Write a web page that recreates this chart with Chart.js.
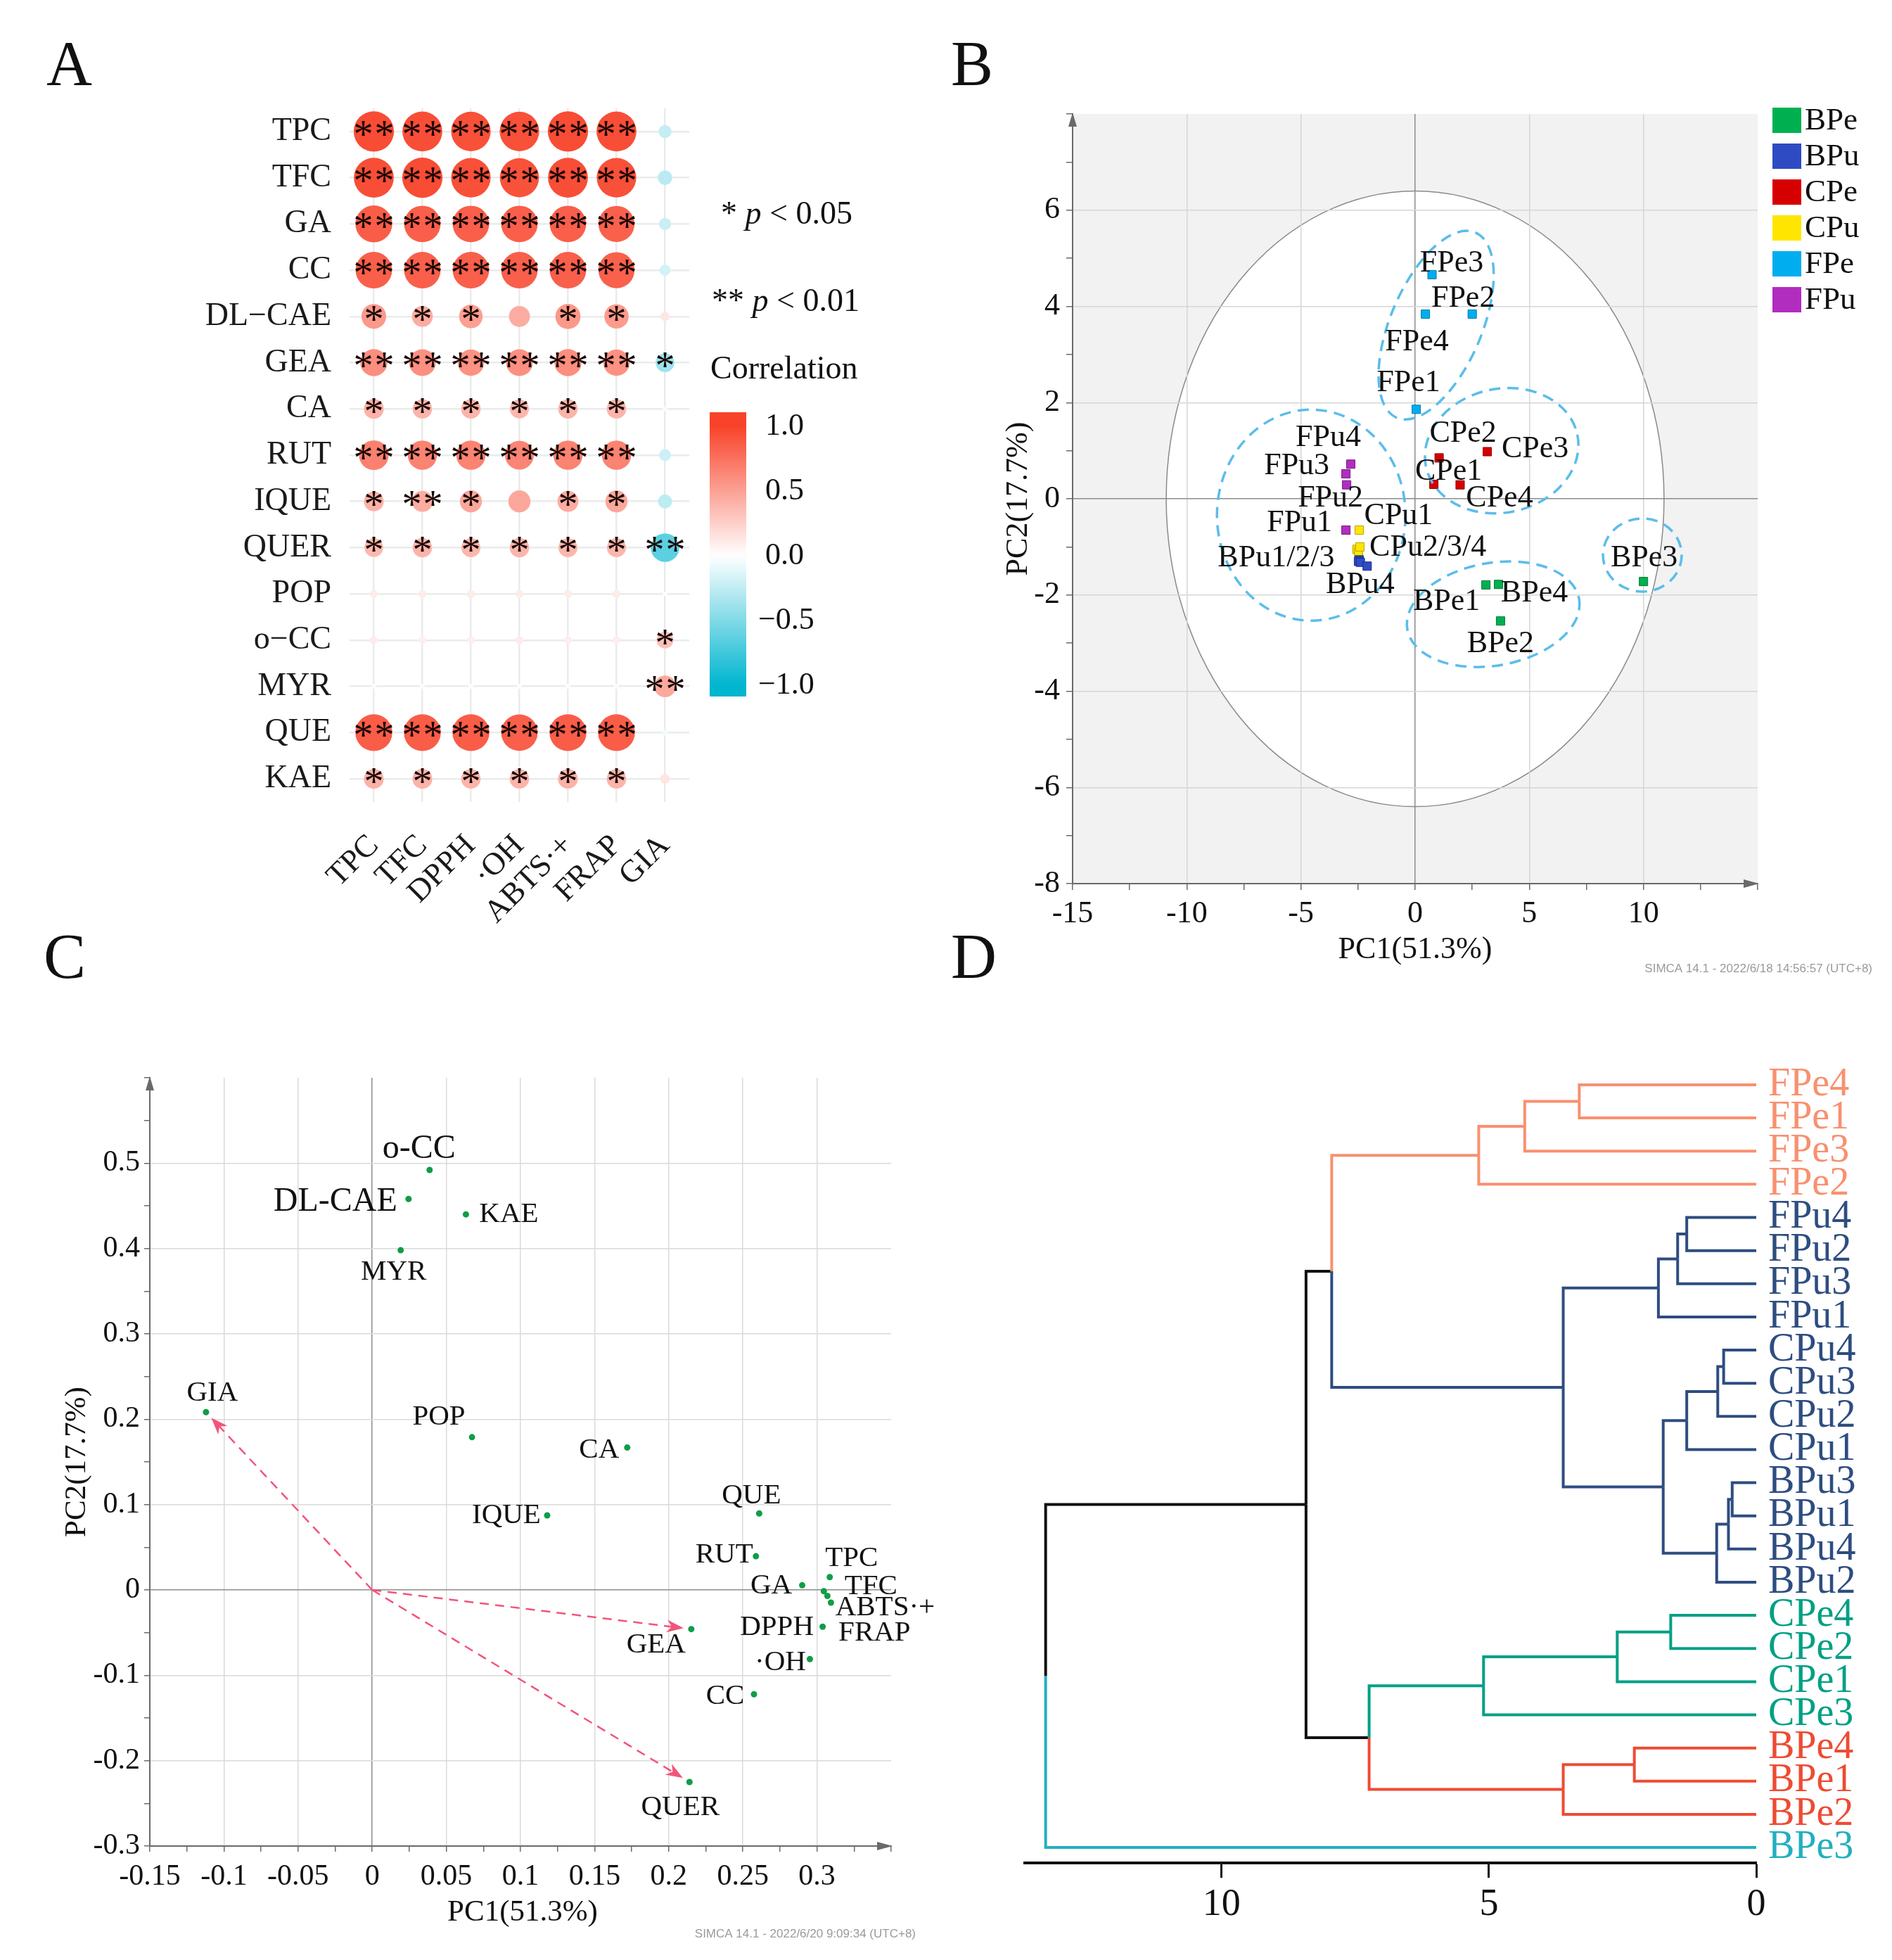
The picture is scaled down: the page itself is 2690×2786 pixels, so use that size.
<!DOCTYPE html>
<html><head><meta charset="utf-8"><title>Figure</title>
<script src="https://cdn.jsdelivr.net/npm/chart.js"></script>
<style>
html,body{margin:0;padding:0;background:#fff}
#page{position:relative;width:2690px;height:2786px;background:#fff;overflow:hidden}
#page canvas{position:absolute}
.tag{position:absolute;font-family:'Liberation Serif','Times New Roman',serif;font-size:90px;line-height:90px;color:#111}
</style></head>
<body><div id="page">
<canvas id="cA" width="1345" height="1393" style="left:0px;top:0px;width:1345px;height:1393px"></canvas>
<canvas id="cB" width="1345" height="1393" style="left:1345px;top:0px;width:1345px;height:1393px"></canvas>
<canvas id="cC" width="1345" height="1393" style="left:0px;top:1393px;width:1345px;height:1393px"></canvas>
<canvas id="cD" width="1345" height="1393" style="left:1345px;top:1393px;width:1345px;height:1393px"></canvas>
<div class="tag" style="left:66px;top:46px">A</div>
<div class="tag" style="left:1352px;top:46px">B</div>
<div class="tag" style="left:62px;top:1315px">C</div>
<div class="tag" style="left:1352px;top:1315px">D</div>
</div>
<script>
// ================= DATA =================
// ---- Panel A : correlation matrix ----
const rowsA = ['TPC','TFC','GA','CC','DL\u2212CAE','GEA','CA','RUT','IQUE','QUER','POP','o\u2212CC','MYR','QUE','KAE'];
const colsA = ['TPC','TFC','DPPH','\u00B7OH','ABTS\u00B7+','FRAP','GIA'];
const rTPC  = [0.95, 0.94, 0.86, 0.85, 0.54, 0.60, 0.41, 0.67, 0.41, 0.38, 0.10, 0.10, 0.02, 0.86, 0.41];
const rTFC  = [0.94, 0.95, 0.85, 0.85, 0.44, 0.59, 0.40, 0.66, 0.44, 0.40, 0.10, 0.09, 0.02, 0.86, 0.41];
const rDPPH = [0.93, 0.93, 0.85, 0.85, 0.51, 0.58, 0.40, 0.66, 0.47, 0.39, 0.10, 0.09, 0.02, 0.86, 0.40];
const rOH   = [0.93, 0.92, 0.85, 0.85, 0.44, 0.59, 0.39, 0.65, 0.47, 0.40, 0.10, 0.10, 0.02, 0.85, 0.40];
const rABTS = [0.95, 0.94, 0.85, 0.85, 0.55, 0.60, 0.40, 0.66, 0.44, 0.39, 0.10, 0.09, 0.02, 0.86, 0.41];
const rFRAP = [0.94, 0.93, 0.84, 0.84, 0.53, 0.58, 0.40, 0.66, 0.47, 0.39, 0.10, 0.09, 0.02, 0.86, 0.40];
const rGIA  = [-0.23, -0.27, -0.21, -0.18, 0.13, -0.38, 0.03, -0.20, -0.26, -0.64, 0.01, 0.33, 0.46, -0.05, 0.14];
// significance: 0 none, 1 = p<0.05, 2 = p<0.01
const sTPC  = [2,2,2,2,1,2,1,2,1,1,0,0,0,2,1];
const sTFC  = [2,2,2,2,1,2,1,2,2,1,0,0,0,2,1];
const sDPPH = [2,2,2,2,1,2,1,2,1,1,0,0,0,2,1];
const sOH   = [2,2,2,2,0,2,1,2,0,1,0,0,0,2,1];
const sABTS = [2,2,2,2,1,2,1,2,1,1,0,0,0,2,1];
const sFRAP = [2,2,2,2,1,2,1,2,1,1,0,0,0,2,1];
const sGIA  = [0,0,0,0,0,1,0,0,0,2,0,1,2,0,0];
const colorbarTicks = [1.0, 0.5, 0.0, -0.5, -1.0];

// ---- Panel B : PCA scores ----
const groupsB = ['BPe','BPu','CPe','CPu','FPe','FPu'];
const bpeX = [3.10, 3.74, 10.0, 3.65];   const bpeY = [-1.79, -2.54, -1.72, -1.78];
const bpuX = [-2.45, -2.48, -2.40, -2.10]; const bpuY = [-1.27, -1.30, -1.32, -1.40];
const cpeX = [0.82, 1.05, 3.16, 1.97];   const cpeY = [0.30, 0.85, 0.98, 0.29];
const cpuX = [-2.45, -2.55, -2.48, -2.42]; const cpuY = [-0.65, -1.05, -1.10, -1.00];
const fpeX = [0.05, 2.50, 0.74, 0.45];   const fpeY = [1.86, 3.84, 4.66, 3.84];
const fpuX = [-3.03, -3.00, -3.03, -2.82]; const fpuY = [-0.65, 0.29, 0.52, 0.72];
const t2X = 10.9, t2Y = 6.4;            // Hotelling T2 ellipse semi-axes
const xTicksB = [-15, -10, -5, 0, 5, 10];
const yTicksB = [-8, -6, -4, -2, 0, 2, 4, 6];

// ---- Panel C : loadings ----
const loadNames = ['TPC','TFC','DPPH','\u00B7OH','ABTS\u00B7+','FRAP','GA','CC','DL-CAE','GEA','CA','RUT','IQUE','QUER','POP','o-CC','MYR','QUE','KAE','GIA'];
const loadX = [0.3086, 0.3046, 0.3038, 0.2952, 0.3094, 0.3070, 0.2900, 0.2575, 0.0245, 0.2152, 0.1720, 0.2588, 0.1180, 0.2140, 0.0673, 0.0387, 0.0192, 0.2610, 0.0632, -0.1121];
const loadY = [0.0150, -0.0014, -0.0431, -0.0810, -0.0148, -0.0070, 0.0055, -0.1222, 0.4580, -0.0459, 0.1668, 0.0395, 0.0874, -0.2250, 0.1790, 0.4920, 0.3980, 0.0896, 0.4400, 0.2083];
const arrowVars = ['GIA','GEA','QUER'];

// ---- Panel D : dendrogram ----
const leavesD = ['FPe4','FPe1','FPe3','FPe2','FPu4','FPu2','FPu3','FPu1','CPu4','CPu3','CPu2','CPu1','BPu3','BPu1','BPu4','BPu2','CPe4','CPe2','CPe1','CPe3','BPe4','BPe1','BPe2','BPe3'];
const clusterOfLeaf = [0,0,0,0,1,1,1,1,1,1,1,1,1,1,1,1,2,2,2,2,3,3,3,4];
const mergeLeft   = [-1, 1, 2, -5, 4, 5, -9, 7, 8, -13, 10, 11, 9, 6, 3, -17, 16, 17, -21, 19, 18, 15, 22];
const mergeRight  = [-2, -3, -4, -6, -7, -8, -10, -11, -12, -14, -15, -16, 12, 13, 14, -18, -19, -20, -22, -23, 20, 21, -24];
const mergeHeight = [3.31, 4.33, 5.19, 1.30, 1.47, 1.83, 0.61, 0.72, 1.30, 0.45, 0.52, 0.74, 1.74, 3.61, 7.94, 1.60, 2.60, 5.10, 2.28, 3.61, 7.24, 8.42, 13.29];
const xTicksD = [0, 5, 10];

// ================= STYLE / LAYOUT =================
const SERIF = "'Liberation Serif', 'Times New Roman', serif";
const SANS = "'Liberation Sans', Arial, sans-serif";
Chart.defaults.font.family = SERIF;
Chart.defaults.color = '#111';

const groupColorsB = ['#00B050','#2E4BC4','#D60000','#FFE500','#00AEEF','#B12DC0'];
const groupBordersB = ['#007A38','#1C2F88','#8E0000','#B8A300','#0079A8','#741C80'];
const clusterColors = ['#F9906F','#2E4D80','#00A085','#EE4B33','#22AFC0'];
// label offsets (px) for panel B: [text, group, point, dx, dy]
const labelLayoutB = [
  ['FPe3',4,2,28,-16], ['FPe2',4,1,-13,-22], ['FPe4',4,3,-12,40], ['FPe1',4,0,-11,-37],
  ['CPe2',2,1,34,-34], ['CPe3',2,2,68,-4], ['CPe1',2,0,21,-18], ['CPe4',2,3,56,19],
  ['FPu4',5,3,-32,-37], ['FPu3',5,2,-70,-11], ['FPu2',5,1,-23,19], ['FPu1',5,0,-66,-10],
  ['CPu1',3,0,56,-20], ['CPu2/3/4',3,1,101,-2], ['BPu1/2/3',1,1,-117,-4], ['BPu4',1,3,-10,27],
  ['BPe1',0,0,-56,24], ['BPe4',0,3,51,13], ['BPe2',0,1,0,33], ['BPe3',0,2,1,-33]
];
// dashed group ellipses (center in data units, radii in px, rotation deg)
const ellLayoutB = [
  {cx:0.92, cy:3.61, rx:143, ry:65, rot:-67},
  {cx:3.79, cy:1.00, rx:110, ry:88, rot:-12},
  {cx:-4.55, cy:-0.34, rx:134, ry:150, rot:0},
  {cx:3.42, cy:-2.40, rx:124, ry:73, rot:-10},
  {cx:9.95, cy:-1.17, rx:56, ry:52, rot:0}
];
// label offsets (px) and font sizes for panel C, same order as loadNames
const labelOffC = [[31,-27],[67,-6],[-65,1],[-42,5],[77,7],[67,53],[-44,1],[-41,3],[-104,4],[-50,23],[-40,4],[-45,-2],[-58,0],[-13,36],[-47,-29],[-15,-30],[-10,31],[-11,-25],[61,0],[9,-27]];
const labelSizeC = [41,41,41,41,41,41,41,41,48,41,41,41,41,41,41,48,41,41,41,41];

// ================= HELPERS =================
function fixH(h){ return s => { s.height = h; s.paddingLeft = 0; s.paddingRight = 0; }; }
function fixW(w){ return s => { s.width = w; s.paddingTop = 0; s.paddingBottom = 0; }; }
function stepTicks(min, max, step){ const out=[]; const n=Math.round((max-min)/step); for(let k=0;k<=n;k++) out.push(+(min+k*step).toFixed(6)); return out; }
function isOn(v, list){ return list.some(t => Math.abs(t - v) < 1e-6); }
function isMultiple(v, step){ return Math.abs(v/step - Math.round(v/step)) < 1e-6; }
const corrHigh=[248,67,42], corrLow=[0,181,208];
function corrColor(v){ const t=Math.min(1,Math.abs(v)); const c=v>=0?corrHigh:corrLow; const m=k=>Math.round(255+(c[k]-255)*t); return `rgb(${m(0)},${m(1)},${m(2)})`; }
function richText(ctx, parts, x, y, size){ let cx=x; parts.forEach(([t,it])=>{ ctx.font=`${it?'italic ':''}${size}px ${SERIF}`; ctx.fillText(t,cx,y); cx+=ctx.measureText(t).width; }); }
function axisArrows(ctx, a, color){
  ctx.save(); ctx.fillStyle=color;
  ctx.beginPath(); ctx.moveTo(a.left, a.top-2); ctx.lineTo(a.left-6, a.top+18); ctx.lineTo(a.left+6, a.top+18); ctx.closePath(); ctx.fill();
  ctx.beginPath(); ctx.moveTo(a.right+2, a.bottom); ctx.lineTo(a.right-20, a.bottom-6); ctx.lineTo(a.right-20, a.bottom+6); ctx.closePath(); ctx.fill();
  ctx.restore();
}
function baseOpts(pad){
  return { responsive:false, maintainAspectRatio:false, animation:false, devicePixelRatio:1,
    layout:{padding:pad}, plugins:{legend:{display:false}, tooltip:{enabled:false}}, events:[] };
}

// ================= PANEL A =================
(function(){
  const corrCols = [rTPC, rTFC, rDPPH, rOH, rABTS, rFRAP, rGIA];
  const sigCols = [sTPC, sTFC, sDPPH, sOH, sABTS, sFRAP, sGIA];
  const cells = [], colors = [];
  corrCols.forEach((col,j)=>col.forEach((v,i)=>{ cells.push({x:j, y:i, r:3+27*Math.abs(v)}); colors.push(corrColor(v)); }));
  const stars = { id:'stars', afterDatasetsDraw(chart){
    const ctx=chart.ctx, xs=chart.scales.x, ys=chart.scales.y;
    ctx.save(); ctx.fillStyle='#160400'; ctx.font=`56px ${SERIF}`; ctx.textAlign='center'; ctx.textBaseline='alphabetic';
    sigCols.forEach((col,j)=>col.forEach((s,i)=>{
      if(!s) return; const px=xs.getPixelForValue(j), py=ys.getPixelForValue(i)+23;
      if(s===1) ctx.fillText('*',px,py); else { ctx.fillText('*',px-15,py); ctx.fillText('*',px+15,py); }
    }));
    ctx.restore(); } };
  const legend = { id:'legA', afterDraw(chart){
    const ctx=chart.ctx; ctx.save(); ctx.fillStyle='#111'; ctx.textBaseline='middle'; ctx.textAlign='left';
    richText(ctx, [['* ',false],['p',true],[' < 0.05',false]], 1025, 306, 46);
    richText(ctx, [['** ',false],['p',true],[' < 0.01',false]], 1012, 430, 46);
    ctx.font=`46px ${SERIF}`; ctx.fillText('Correlation', 1010, 526);
    const top=586, bot=990, x0=1009, w=52, mid=790, unit=184;
    const g=ctx.createLinearGradient(0,top,0,bot);
    for(let k=0;k<=40;k++){ const y=top+(bot-top)*k/40; g.addColorStop(k/40, corrColor((mid-y)/unit)); }
    ctx.fillStyle=g; ctx.fillRect(x0,top,w,bot-top);
    ctx.fillStyle='#111'; ctx.font=`44px ${SERIF}`;
    colorbarTicks.forEach(v=>{ const t=(v<0?'\u2212':'')+Math.abs(v).toFixed(1); ctx.fillText(t, v<0?1078:1088, mid-v*unit); });
    ctx.restore(); } };
  const o = baseOpts({left:0, top:154, right:365, bottom:0});
  o.scales = {
    x:{ type:'linear', min:-0.5, max:6.5,
      afterBuildTicks:s=>{ s.ticks=colsA.map((_,i)=>({value:i})); }, afterFit:fixH(253),
      ticks:{ autoSkip:false, minRotation:45, maxRotation:45, padding:36, font:{size:45}, color:'#1a1a1a', callback:v=>colsA[v] },
      grid:{ color:'#EAEBEC', lineWidth:2.5, drawTicks:false }, border:{display:false} },
    y:{ type:'linear', min:-0.5, max:14.5, reverse:true,
      afterBuildTicks:s=>{ s.ticks=rowsA.map((_,i)=>({value:i})); }, afterFit:fixW(497),
      ticks:{ autoSkip:false, padding:26, font:{size:46}, color:'#1a1a1a', callback:v=>rowsA[v] },
      grid:{ color:'#EAEBEC', lineWidth:2.5, drawTicks:false }, border:{display:false} }
  };
  new Chart(document.getElementById('cA'), { type:'bubble',
    data:{ datasets:[{ data:cells, backgroundColor:colors, borderWidth:0 }] }, options:o, plugins:[stars, legend] });
})();

// ================= PANEL B =================
(function(){
  const xs=[bpeX,bpuX,cpeX,cpuX,fpeX,fpuX], ys=[bpeY,bpuY,cpeY,cpuY,fpeY,fpuY];
  const datasets = groupsB.map((g,i)=>({ label:g, data:xs[i].map((x,k)=>({x, y:ys[i][k]})),
    pointStyle:'rect', pointRadius:8.5, backgroundColor:groupColorsB[i], borderColor:groupBordersB[i], borderWidth:1, showLine:false }));
  const bg = { id:'bgB', beforeDraw(chart){
    const {ctx, chartArea:a, scales:{x,y}} = chart; ctx.save();
    ctx.fillStyle='#F2F2F2'; ctx.fillRect(a.left,a.top,a.right-a.left,a.bottom-a.top);
    const cx=x.getPixelForValue(0), cy=y.getPixelForValue(0);
    const rx=x.getPixelForValue(t2X)-cx, ry=cy-y.getPixelForValue(t2Y);
    ctx.beginPath(); ctx.ellipse(cx,cy,rx,ry,0,0,2*Math.PI); ctx.fillStyle='#fff'; ctx.fill();
    ctx.lineWidth=1.5; ctx.strokeStyle='#8a8a8a'; ctx.stroke(); ctx.restore(); } };
  const over = { id:'overB', afterDatasetsDraw(chart){
    const {ctx, scales:{x,y}} = chart; ctx.save();
    ctx.strokeStyle='#5BBDEA'; ctx.lineWidth=3.5; ctx.setLineDash([16,10]);
    ellLayoutB.forEach(e=>{ ctx.beginPath(); ctx.ellipse(x.getPixelForValue(e.cx), y.getPixelForValue(e.cy), e.rx, e.ry, e.rot*Math.PI/180, 0, 2*Math.PI); ctx.stroke(); });
    ctx.setLineDash([]);
    ctx.fillStyle='#111'; ctx.font=`44px ${SERIF}`; ctx.textAlign='center'; ctx.textBaseline='middle';
    labelLayoutB.forEach(([t,g,k,dx,dy])=>{ ctx.fillText(t, x.getPixelForValue(xs[g][k])+dx, y.getPixelForValue(ys[g][k])+dy); });
    ctx.restore(); },
    afterDraw(chart){
      const {ctx, chartArea:a} = chart; axisArrows(ctx, a, '#6a6a6a'); ctx.save();
      groupsB.forEach((g,i)=>{ const yc=171+i*51; ctx.fillStyle=groupColorsB[i]; ctx.fillRect(1175,yc-18,41,36);
        ctx.fillStyle='#111'; ctx.font=`45px ${SERIF}`; ctx.textAlign='left'; ctx.textBaseline='middle'; ctx.fillText(g,1221,yc+1); });
      ctx.fillStyle='#111'; ctx.font=`44px ${SERIF}`; ctx.textAlign='center'; ctx.textBaseline='middle';
      ctx.fillText('PC1(51.3%)', (a.left+a.right)/2, 1350);
      ctx.translate(103,(a.top+a.bottom)/2); ctx.rotate(-Math.PI/2); ctx.fillText('PC2(17.7%)',0,0); ctx.setTransform(1,0,0,1,0,0);
      ctx.fillStyle='#9a9a9a'; ctx.font=`17px ${SANS}`; ctx.textAlign='right'; ctx.fillText('SIMCA 14.1 - 2022/6/18 14:56:57 (UTC+8)', 1317, 1377);
      ctx.restore(); } };
  const gridCol = (list)=> ctx => { const v=ctx.tick?ctx.tick.value:NaN; if(Math.abs(v)<1e-9) return '#8c8c8c'; return (isOn(v,list) && ctx.index>0) ? '#D6D6D6' : 'rgba(0,0,0,0)'; };
  const o = baseOpts({left:0, top:162, right:191, bottom:0});
  o.scales = {
    x:{ type:'linear', min:-15, max:15, afterBuildTicks:s=>{ s.ticks=stepTicks(-15,15,2.5).map(v=>({value:v})); }, afterFit:fixH(137),
      ticks:{ autoSkip:false, maxRotation:0, minRotation:0, padding:8, font:{size:44}, color:'#111', callback:v=>isOn(v,xTicksB)?String(v):'' },
      grid:{ color:gridCol(xTicksB), lineWidth:1.5, drawTicks:true, tickLength:9, tickColor:'#6a6a6a', tickWidth:1.5 },
      border:{ display:true, color:'#6a6a6a', width:2 } },
    y:{ type:'linear', min:-8, max:8, afterBuildTicks:s=>{ s.ticks=stepTicks(-8,8,1).map(v=>({value:v})); }, afterFit:fixW(180),
      ticks:{ autoSkip:false, padding:9, font:{size:44}, color:'#111', callback:v=>isOn(v,yTicksB)?String(v):'' },
      grid:{ color:gridCol(yTicksB), lineWidth:1.5, drawTicks:true, tickLength:9, tickColor:'#6a6a6a', tickWidth:1.5 },
      border:{ display:true, color:'#6a6a6a', width:2 } }
  };
  new Chart(document.getElementById('cB'), { type:'scatter', data:{datasets}, options:o, plugins:[bg, over] });
})();

// ================= PANEL C =================
(function(){
  const pts = loadX.map((x,i)=>({x, y:loadY[i]}));
  const over = { id:'overC', afterDatasetsDraw(chart){
    const {ctx, scales:{x,y}} = chart; ctx.save();
    const ox=x.getPixelForValue(0), oy=y.getPixelForValue(0);
    arrowVars.forEach(n=>{ const i=loadNames.indexOf(n); const tx=x.getPixelForValue(loadX[i]), ty=y.getPixelForValue(loadY[i]);
      const dx=tx-ox, dy=ty-oy, L=Math.hypot(dx,dy), ux=dx/L, uy=dy/L; const ex=tx-ux*11, ey=ty-uy*11;
      ctx.strokeStyle='#F2557A'; ctx.lineWidth=2.5; ctx.setLineDash([13,9]);
      ctx.beginPath(); ctx.moveTo(ox,oy); ctx.lineTo(ex-ux*14, ey-uy*14); ctx.stroke(); ctx.setLineDash([]);
      ctx.fillStyle='#F2557A'; ctx.beginPath(); ctx.moveTo(ex,ey);
      ctx.lineTo(ex-ux*24-uy*9, ey-uy*24+ux*9); ctx.lineTo(ex-ux*17, ey-uy*17); ctx.lineTo(ex-ux*24+uy*9, ey-uy*24-ux*9); ctx.closePath(); ctx.fill(); });
    ctx.fillStyle='#111'; ctx.textAlign='center'; ctx.textBaseline='middle';
    loadNames.forEach((n,i)=>{ ctx.font=`${labelSizeC[i]}px ${SERIF}`; ctx.fillText(n, x.getPixelForValue(loadX[i])+labelOffC[i][0], y.getPixelForValue(loadY[i])+labelOffC[i][1]); });
    ctx.restore(); },
    afterDraw(chart){
      const {ctx, chartArea:a} = chart; axisArrows(ctx, a, '#6a6a6a'); ctx.save();
      ctx.fillStyle='#111'; ctx.font=`43px ${SERIF}`; ctx.textAlign='center'; ctx.textBaseline='middle';
      ctx.fillText('PC1(51.3%)', 743, 1326);
      ctx.translate(110,(a.top+a.bottom)/2); ctx.rotate(-Math.PI/2); ctx.fillText('PC2(17.7%)',0,0); ctx.setTransform(1,0,0,1,0,0);
      ctx.fillStyle='#9a9a9a'; ctx.font=`17px ${SANS}`; ctx.textAlign='right'; ctx.fillText('SIMCA 14.1 - 2022/6/20 9:09:34 (UTC+8)', 1302, 1356);
      ctx.restore(); } };
  const gridCol = (step, lo, hi)=> ctx => { const v=ctx.tick?ctx.tick.value:NaN; if(Math.abs(v)<1e-9) return '#8c8c8c';
    return (isMultiple(v,step) && v>lo+1e-9 && v<hi-1e-9) ? '#DADADA' : 'rgba(0,0,0,0)'; };
  const fmt = v => String(parseFloat(v.toFixed(2)));
  const o = baseOpts({left:0, top:139, right:78, bottom:0});
  o.scales = {
    x:{ type:'linear', min:-0.15, max:0.35, afterBuildTicks:s=>{ s.ticks=stepTicks(-0.15,0.35,0.025).map(v=>({value:v})); }, afterFit:fixH(162),
      ticks:{ autoSkip:false, maxRotation:0, minRotation:0, padding:11, font:{size:42}, color:'#111', callback:v=>(isMultiple(v,0.05)&&v<0.349)?fmt(v):'' },
      grid:{ color:gridCol(0.05,-0.15,0.35), lineWidth:1.5, drawTicks:true, tickLength:8, tickColor:'#6a6a6a', tickWidth:1.5 },
      border:{ display:true, color:'#6a6a6a', width:2 } },
    y:{ type:'linear', min:-0.3, max:0.6, afterBuildTicks:s=>{ s.ticks=stepTicks(-0.3,0.6,0.05).map(v=>({value:v})); }, afterFit:fixW(213),
      ticks:{ autoSkip:false, padding:6, font:{size:42}, color:'#111', callback:v=>(isMultiple(v,0.1)&&v<0.59)?fmt(v):'' },
      grid:{ color:gridCol(0.1,-0.3,0.6), lineWidth:1.5, drawTicks:true, tickLength:8, tickColor:'#6a6a6a', tickWidth:1.5 },
      border:{ display:true, color:'#6a6a6a', width:2 } }
  };
  new Chart(document.getElementById('cC'), { type:'scatter',
    data:{ datasets:[{ data:pts, pointRadius:4.5, backgroundColor:'#119C48', borderWidth:0 }] }, options:o, plugins:[over] });
})();

// ================= PANEL D =================
(function(){
  const nodes=[];
  const ref = k => { if(k<0){ const i=-k-1; return {h:0, y:i, leaves:[i]}; } return nodes[k-1]; };
  mergeHeight.forEach((h,k)=>{ const a=ref(mergeLeft[k]), b=ref(mergeRight[k]); nodes.push({h, y:(a.y+b.y)/2, leaves:a.leaves.concat(b.leaves), kids:[a,b]}); });
  const subColor = n => { const c=clusterOfLeaf[n.leaves[0]]; return n.leaves.every(i=>clusterOfLeaf[i]===c) ? clusterColors[c] : '#111'; };
  const datasets=[];
  nodes.forEach(n=>n.kids.forEach(c=>{ datasets.push({ data:[{x:n.h,y:n.y},{x:n.h,y:c.y},{x:c.h,y:c.y}], showLine:true, pointRadius:0,
    borderColor:subColor(c), borderWidth:4, borderCapStyle:'butt', borderJoinStyle:'miter', fill:false }); }));
  const o = baseOpts({left:112, top:125.4, right:0, bottom:0});
  o.scales = {
    x:{ type:'linear', reverse:true, min:0, max:13.68, afterBuildTicks:s=>{ s.ticks=xTicksD.map(v=>({value:v})); }, afterFit:fixH(137.8),
      ticks:{ autoSkip:false, maxRotation:0, minRotation:0, padding:6, font:{size:54}, color:'#111', callback:v=>String(v) },
      grid:{ display:true, drawOnChartArea:false, drawTicks:true, tickLength:21, tickColor:'#111', tickWidth:3, color:'rgba(0,0,0,0)' },
      border:{ display:true, color:'#111', width:4 } },
    y:{ type:'linear', position:'right', reverse:true, min:-0.5, max:23.47, afterBuildTicks:s=>{ s.ticks=leavesD.map((_,i)=>({value:i})); }, afterFit:fixW(193),
      ticks:{ autoSkip:false, padding:17, font:{size:56}, color:ctx=>clusterColors[clusterOfLeaf[ctx.tick.value]], callback:v=>leavesD[v] },
      grid:{ display:false, drawTicks:false }, border:{display:false} }
  };
  new Chart(document.getElementById('cD'), { type:'scatter', data:{datasets}, options:o });
})();
</script>
</body></html>
